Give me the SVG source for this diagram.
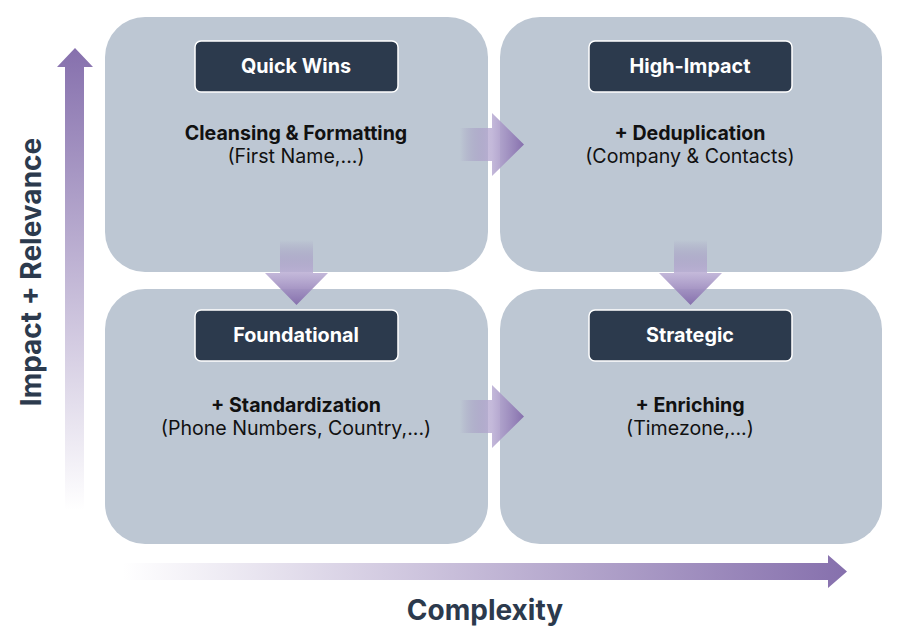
<svg xmlns="http://www.w3.org/2000/svg" width="900" height="636" viewBox="0 0 900 636">
<defs>
<style>
.quad{fill:#bdc7d3;}
.lbl{fill:#2c3a4d;stroke:#ffffff;stroke-width:1.5;}
.lt{font-family:Inter,"Liberation Sans",sans-serif;font-size:19.8px;font-weight:700;fill:#ffffff;text-anchor:middle;}
.t1{font-family:Inter,"Liberation Sans",sans-serif;font-size:19.6px;font-weight:700;fill:#111111;text-anchor:middle;}
.t2{font-family:Inter,"Liberation Sans",sans-serif;font-size:19.6px;font-weight:400;fill:#111111;text-anchor:middle;}
.ax{font-family:Inter,"Liberation Sans",sans-serif;font-size:28px;font-weight:700;fill:#2c3a4d;text-anchor:middle;}
</style>
<linearGradient id="gH" x1="0" y1="0" x2="1" y2="0">
<stop offset="0" stop-color="#8670ad" stop-opacity="0"/>
<stop offset="0.5" stop-color="#b9acd3" stop-opacity="0.85"/>
<stop offset="1" stop-color="#8670ad"/>
</linearGradient>
<linearGradient id="gV" x1="0" y1="0" x2="0" y2="1">
<stop offset="0" stop-color="#8670ad" stop-opacity="0"/>
<stop offset="0.5" stop-color="#b9acd3" stop-opacity="0.85"/>
<stop offset="1" stop-color="#8670ad"/>
</linearGradient>
<linearGradient id="gAxX" x1="0" y1="0" x2="1" y2="0">
<stop offset="0" stop-color="#8670ad" stop-opacity="0"/>
<stop offset="1" stop-color="#8670ad"/>
</linearGradient>
<linearGradient id="gAxY" x1="0" y1="1" x2="0" y2="0">
<stop offset="0" stop-color="#8670ad" stop-opacity="0"/>
<stop offset="1" stop-color="#8670ad"/>
</linearGradient>
</defs>
<rect width="900" height="636" fill="#ffffff"/>

<g id="quick-wins">
<rect class="quad" x="105" y="17" width="383" height="255" rx="40"/>
<rect class="lbl" x="195" y="41" width="203" height="51" rx="6"/>
<text class="lt" x="296" y="73">Quick Wins</text>
<text class="t1" x="296" y="140">Cleansing &amp; Formatting</text>
<text class="t2" x="296" y="163">(First Name,...)</text>
</g>
<g id="high-impact">
<rect class="quad" x="500" y="17" width="382" height="255" rx="40"/>
<rect class="lbl" x="589" y="41" width="203" height="51" rx="6"/>
<text class="lt" x="690" y="73">High-Impact</text>
<text class="t1" x="690" y="140">+ Deduplication</text>
<text class="t2" x="690" y="163">(Company &amp; Contacts)</text>
</g>
<g id="foundational">
<rect class="quad" x="105" y="289" width="383" height="255" rx="40"/>
<rect class="lbl" x="195" y="310" width="203" height="51" rx="6"/>
<text class="lt" x="296" y="342">Foundational</text>
<text class="t1" x="296" y="412">+ Standardization</text>
<text class="t2" x="296" y="435">(Phone Numbers, Country,...)</text>
</g>
<g id="strategic">
<rect class="quad" x="500" y="289" width="382" height="255" rx="40"/>
<rect class="lbl" x="589" y="310" width="203" height="51" rx="6"/>
<text class="lt" x="690" y="342">Strategic</text>
<text class="t1" x="690" y="412">+ Enriching</text>
<text class="t2" x="690" y="435">(Timezone,...)</text>
</g>

<g id="connectors">
<path d="M460,128 H492 V113 L524,144.5 L492,176 V161 H460 Z" fill="url(#gH)"/>
<path d="M460,400 H492 V385 L524,416.5 L492,448 V433 H460 Z" fill="url(#gH)"/>
<path d="M280,240 V273 H265 L296.5,305 L328,273 H313 V240 Z" fill="url(#gV)"/>
<path d="M674,240 V273 H659 L690.5,305 L722,273 H707 V240 Z" fill="url(#gV)"/>
</g>

<g id="axes">
<path d="M65,510 V67 H57 L75,48 L93,67 H84 V510 Z" fill="url(#gAxY)"/>
<path d="M123,563 H828 V555 L847,571.5 L828,588 V580 H123 Z" fill="url(#gAxX)"/>
<text class="ax" x="485" y="620">Complexity</text>
<text class="ax" transform="translate(41,272) rotate(-90)">Impact + Relevance</text>
</g>
</svg>
